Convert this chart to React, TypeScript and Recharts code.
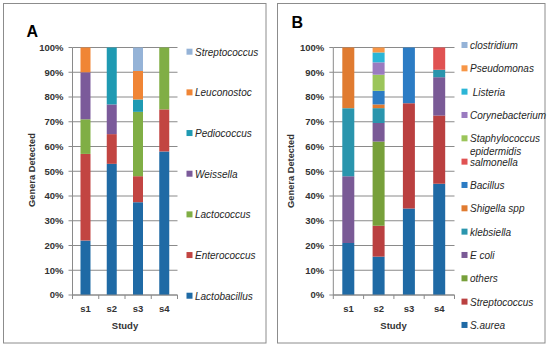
import React from 'react';
import { BarChart, Bar, XAxis, YAxis, CartesianGrid } from 'recharts';

// ---------- data ----------
const studies = ['s1', 's2', 's3', 's4'];
const yTicks = [0, 10, 20, 30, 40, 50, 60, 70, 80, 90, 100];

// Panel A (bottom -> top stacking order)
const seriesA = ['Lactobacillus', 'Enterococcus', 'Lactococcus', 'Weissella', 'Pediococcus', 'Leuconostoc', 'Streptococcus'];
const lactobacillusA = [22, 53, 37.5, 58];
const enterococcusA = [35, 12, 10.5, 17];
const lactococcusA = [14, 0, 26, 25];
const weissellaA = [19, 12, 0, 0];
const pediococcusA = [0, 23, 5, 0];
const leuconostocA = [10, 0, 11.5, 0];
const streptococcusA = [0, 0, 9.5, 0];
const valuesA = [lactobacillusA, enterococcusA, lactococcusA, weissellaA, pediococcusA, leuconostocA, streptococcusA];
const colorsA = ['#1F6AA5', '#C24542', '#80AE45', '#7B5A9A', '#1F9AB2', '#F08535', '#95B3D7'];

// Panel B (bottom -> top stacking order)
const seriesB = ['S.aurea', 'Streptococcus', 'others', 'E coli', 'klebsiella', 'Shigella spp', 'Bacillus', 'salmonella', 'Staphylococcus epidermidis', 'Corynebacterium', ' Listeria', 'Pseudomonas', 'clostridium'];
const sAureaB = [21, 15.5, 35, 45];
const streptococcusB = [0, 12.5, 42.5, 27.5];
const othersB = [0, 34, 0, 0];
const eColiB = [27, 7.5, 0, 15.5];
const klebsiellaB = [27.5, 6, 0, 3];
const shigellaB = [24.5, 1.5, 0, 0];
const bacillusB = [0, 5.5, 22.5, 0];
const salmonellaB = [0, 0, 0, 9];
const staphB = [0, 6.5, 0, 0];
const corynebacteriumB = [0, 5, 0, 0];
const listeriaB = [0, 4, 0, 0];
const pseudomonasB = [0, 2, 0, 0];
const clostridiumB = [0, 0, 0, 0];
const valuesB = [sAureaB, streptococcusB, othersB, eColiB, klebsiellaB, shigellaB, bacillusB, salmonellaB, staphB, corynebacteriumB, listeriaB, pseudomonasB, clostridiumB];
const colorsB = ['#1F6AA5', '#BA4040', '#77A03A', '#7A5A96', '#2A95AD', '#E07B30', '#2C7CC4', '#E05252', '#9BC55A', '#9A7BC0', '#2BB5D6', '#F79646', '#95B3D7'];

const dataA = studies.map((s, i) => {
  const row: Record<string, any> = { study: s };
  valuesA.forEach((arr, k) => { row[`a${k}`] = arr[i]; });
  return row;
});
const dataB = studies.map((s, i) => {
  const row: Record<string, any> = { study: s };
  valuesB.forEach((arr, k) => { row[`b${k}`] = arr[i]; });
  return row;
});

// ---------- styles / geometry ----------
const FONT = 'Arial, "Liberation Sans", sans-serif';
const GRID = '#8a8a8a';
const TEXT = '#333333';
const PLOT_TOP = 47.5;
const PLOT_BOTTOM = 295;
const A_LEFT = 72.5, A_RIGHT = 177.5;
const B_LEFT = 333.3, B_RIGHT = 454.5;

const XTick = (props: any) => {
  const { x, y, payload, index, half, count } = props;
  return (
    <g>
      <line x1={x - half} x2={x - half} y1={y} y2={y + 4} stroke={GRID} />
      {index === count - 1 && <line x1={x + half} x2={x + half} y1={y} y2={y + 4} stroke={GRID} />}
      <text x={x} y={y + 17} textAnchor="middle" fontSize={9.5} fontWeight="bold" fill={TEXT} fontFamily={FONT}>
        {payload.value}
      </text>
    </g>
  );
};

const yTickStyle = { fontSize: 9.5, fontWeight: 'bold', fill: TEXT, fontFamily: FONT };

function Panel({ left, width, plotLeft, plotRight, data, prefix, colors, barSize }: any) {
  const n = colors.length;
  const half = (plotRight - plotLeft) / studies.length / 2;
  return (
    <div style={{ position: 'absolute', left, top: 0 }}>
      <BarChart
        width={width}
        height={347}
        data={data}
        margin={{ top: PLOT_TOP, right: width - (plotRight - left), bottom: 347 - PLOT_BOTTOM - 30, left: 0 }}
        barSize={barSize}
      >
        <CartesianGrid vertical={false} stroke={GRID} />
        <XAxis
          dataKey="study"
          height={30}
          interval={0}
          tickSize={0}
          tickMargin={0}
          tickLine={false}
          axisLine={{ stroke: GRID }}
          tick={(p: any) => <XTick {...p} half={half} count={studies.length} />}
        />
        <YAxis
          width={plotLeft - left}
          domain={[0, 100]}
          ticks={yTicks}
          interval={0}
          tickFormatter={(v: number) => `${v}%`}
          tickSize={4}
          tickMargin={5}
          tick={yTickStyle}
          axisLine={{ stroke: GRID }}
          tickLine={{ stroke: GRID }}
        />
        {Array.from({ length: n }).map((_, k) => (
          <Bar key={k} dataKey={`${prefix}${k}`} stackId="s" fill={colors[k]} isAnimationActive={false} />
        ))}
      </BarChart>
    </div>
  );
}

function Legend({ names, colors, x, y0, step }: any) {
  const items = names.map((name: string, k: number) => ({ name, color: colors[k] })).reverse();
  return (
    <g>
      {items.map((it: any, i: number) => {
        const cy = y0 + i * step;
        const words = it.name.length > 20 ? it.name.split(' ') : [it.name];
        return (
          <g key={i}>
            <rect x={x} y={cy - 3} width={6} height={6} fill={it.color} />
            <text x={x + 8.5} y={cy} dominantBaseline="central" fontSize={10} fontStyle="italic" fill="#262626" fontFamily={FONT} style={{ whiteSpace: 'pre' }}>
              {words.map((w: string, j: number) => (
                <tspan key={j} x={x + 8.5} dy={j === 0 ? 0 : 13}>{w}</tspan>
              ))}
            </text>
          </g>
        );
      })}
    </g>
  );
}

export default function App() {
  return (
    <div style={{ position: 'absolute', left: 0, top: 0, width: 550, height: 347, background: '#fff', overflow: 'hidden' }}>
      <svg width={550} height={347} style={{ position: 'absolute', left: 0, top: 0 }}>
        <rect x={3.5} y={3.5} width={262.5} height={339.5} fill="#fff" stroke="#8c8c8c" />
        <rect x={277.5} y={3.5} width={267.5} height={339.5} fill="#fff" stroke="#8c8c8c" />
        <text x={26.5} y={36.7} fontSize={16} fontWeight="bold" fill="#000" fontFamily={FONT}>A</text>
        <text x={291.5} y={28.3} fontSize={16} fontWeight="bold" fill="#000" fontFamily={FONT}>B</text>
        <text x={125} y={328.5} textAnchor="middle" fontSize={9.5} fontWeight="bold" fill={TEXT} fontFamily={FONT}>Study</text>
        <text x={393.5} y={328.5} textAnchor="middle" fontSize={9.5} fontWeight="bold" fill={TEXT} fontFamily={FONT}>Study</text>
        <text transform="translate(34.5,170) rotate(-90)" textAnchor="middle" fontSize={9.3} fontWeight="bold" fill={TEXT} fontFamily={FONT}>Genera Detected</text>
        <text transform="translate(293.5,171) rotate(-90)" textAnchor="middle" fontSize={9.3} fontWeight="bold" fill={TEXT} fontFamily={FONT}>Genera Detected</text>
      </svg>
      <Panel left={0} width={270} plotLeft={A_LEFT} plotRight={A_RIGHT} data={dataA} prefix="a" colors={colorsA} barSize={10} />
      <Panel left={272} width={276} plotLeft={B_LEFT} plotRight={B_RIGHT} data={dataB} prefix="b" colors={colorsB} barSize={12} />
      <svg width={550} height={347} style={{ position: 'absolute', left: 0, top: 0, pointerEvents: 'none' }}>
        <Legend names={seriesA} colors={colorsA} x={186.5} y0={51.7} step={40.67} />
        <Legend names={seriesB} colors={colorsB} x={461.5} y0={45} step={23.33} />
      </svg>
    </div>
  );
}
